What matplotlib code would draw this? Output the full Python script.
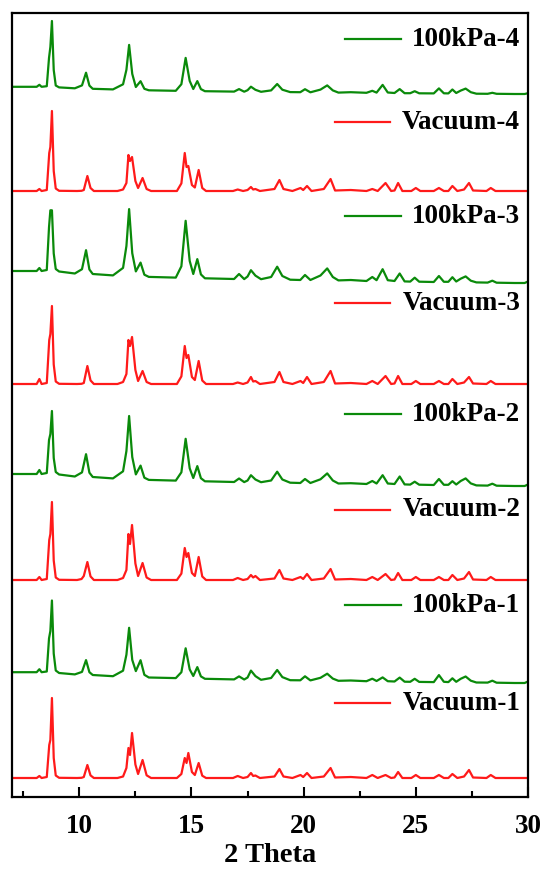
import matplotlib
matplotlib.use("Agg")
import matplotlib.pyplot as plt

# 2-theta sample points shared by the 100 kPa patterns
G_X = [7.00, 7.60, 8.10, 8.22, 8.32, 8.55, 8.65, 8.71, 8.78, 8.86,
       8.95, 9.10, 9.80, 10.12, 10.30, 10.45, 10.60, 11.50, 11.95, 12.10,
       12.22, 12.36, 12.52, 12.73, 12.90, 13.10, 14.30, 14.55, 14.74, 14.92,
       15.08, 15.26, 15.42, 15.60, 16.90, 17.12, 17.35, 17.50, 17.65, 17.85,
       18.10, 18.55, 18.82, 19.05, 19.40, 19.85, 20.06, 20.30, 20.75, 21.05,
       21.30, 21.55, 22.10, 22.80, 23.06, 23.25, 23.52, 23.75, 24.05, 24.28,
       24.50, 24.75, 24.95, 25.15, 25.80, 26.03, 26.25, 26.45, 26.63, 26.80,
       27.00, 27.22, 27.45, 27.70, 28.20, 28.41, 28.60, 29.40, 29.85, 30.00]

kpa_1 = [10.8, 10.8, 10.8, 13.8, 10.8, 11.5, 44.6, 52, 82.5, 29.4,
         12.5, 10, 8.6, 11.1, 22.9, 10.8, 8, 6.8, 12.3, 28.3,
         55.2, 23.1, 11.9, 22.8, 8.2, 5.5, 4.9, 10.8, 34.7, 13.6,
         7, 15.9, 6.6, 4.2, 3.6, 6.6, 3.5, 5.5, 12.4, 6.9,
         3.2, 5, 13, 5.9, 2.8, 2.7, 6.7, 2.6, 5.2, 9.3,
         4.4, 2.2, 2.5, 1.8, 4.3, 2, 5.6, 1.8, 1.5, 5.4,
         1.3, 1.2, 4.2, 1.1, 0.9, 7.9, 1.2, 0.9, 4.7, 1.2,
         4.2, 6.5, 2.3, 0.5, 0.4, 2.3, 0.3, 0, 0, 1.5]

kpa_2 = [12, 12, 12, 16, 12, 13, 46, 52, 75, 28,
         14, 11.5, 9.5, 13.6, 31.8, 13.3, 9, 7.6, 14.7, 35,
         70, 29, 11.6, 20.4, 8.3, 6.1, 5.4, 13.7, 47.2, 17.7,
         8, 19.9, 7.8, 4.7, 4, 7.5, 3.9, 5.5, 10.8, 6.5,
         3.8, 5.5, 14.3, 6.5, 3.3, 3, 7, 3, 6.7, 12.6,
         5.5, 2.5, 2.8, 2, 5, 2.5, 10.8, 2.5, 2, 9.5,
         1.6, 1.4, 4.3, 1.3, 1, 7, 1.2, 1.2, 4.8, 1.5,
         5, 7.6, 2.6, 0.6, 0.4, 2.3, 0.3, 0, 0, 1.5]

kpa_3 = [12, 12, 12, 15, 12, 13, 55.8, 72.7, 72.7, 29.6,
         14, 11.5, 9.5, 13.8, 32.8, 13.5, 9, 7.6, 15.1, 37,
         73.9, 29.8, 11.6, 20.4, 8.3, 6.1, 5.4, 16.7, 62.2, 22.1,
         9, 23.9, 8.6, 4.7, 4, 9, 3.9, 6.5, 12.8, 7.4,
         3.8, 6, 16.3, 7, 3.3, 3, 8, 3, 7.5, 14.6,
         6, 2.6, 3, 2, 6, 2.8, 13.8, 2.8, 2, 9.5,
         1.6, 1.4, 5.3, 1.3, 1, 7, 1.2, 1.2, 5.8, 1.5,
         4.3, 6.6, 2.3, 0.6, 0.4, 2.3, 0.3, 0, 0, 1.5]

kpa_4 = [7.2, 7.2, 7.2, 9.2, 7.2, 7.8, 36.1, 47, 73, 24,
         8.5, 6.6, 5.7, 8.6, 21.3, 8.4, 5.2, 4.6, 9.7, 24.2,
         49.1, 20.1, 7, 12.8, 5.2, 3.7, 3.2, 9.8, 36.1, 13.1,
         5, 12.9, 4.9, 2.8, 2.4, 4.9, 2.3, 3.8, 7.3, 4.2,
         2.2, 3.6, 10, 4.3, 1.9, 1.8, 4.8, 1.7, 4.4, 8.6,
         3.6, 1.4, 1.8, 1.2, 3.2, 1.4, 9.1, 1.5, 1, 4.9,
         0.8, 0.8, 2.8, 0.7, 0.6, 5.6, 0.7, 0.6, 4.5, 1,
         3.4, 5.4, 1.8, 0.3, 0.2, 1.2, 0.2, 0, 0, 0.8]

# 2-theta sample points shared by the vacuum patterns
R_X = [7.00, 7.60, 8.10, 8.22, 8.32, 8.55, 8.66, 8.71, 8.78, 8.86,
       8.95, 9.10, 9.90, 10.10, 10.20, 10.36, 10.50, 10.65, 11.70, 11.95,
       12.10, 12.19, 12.26, 12.35, 12.50, 12.62, 12.82, 13.00, 13.20, 14.35,
       14.55, 14.70, 14.78, 14.86, 15.02, 15.15, 15.32, 15.48, 15.65, 16.85,
       17.06, 17.30, 17.50, 17.65, 17.75, 17.85, 18.05, 18.70, 18.92, 19.10,
       19.50, 19.86, 19.98, 20.15, 20.35, 20.90, 21.20, 21.40, 22.10, 22.80,
       23.06, 23.30, 23.65, 23.90, 24.05, 24.21, 24.40, 24.80, 25.00, 25.20,
       25.80, 26.03, 26.25, 26.45, 26.63, 26.85, 27.15, 27.37, 27.55, 28.15,
       28.34, 28.55, 29.40, 30.00]

vac_1 = [2, 2, 2, 4, 2, 3, 35, 40, 82, 22,
         4.5, 2.2, 2, 2.2, 3, 15, 4.6, 2, 2, 3.5,
         12, 32, 25, 47, 15.5, 6, 20, 4.7, 2, 2,
         6, 22, 17, 27, 8, 5, 17, 4.3, 2, 2,
         4, 2, 3, 7, 4, 4.5, 2, 3.5, 11, 3.5,
         2, 5, 3, 7, 2, 3.5, 12, 2.5, 3, 2,
         5, 2, 5, 2, 2.5, 8, 2, 2, 5, 2,
         2, 5, 2, 2, 6, 2, 3.5, 10, 2.5, 2,
         5, 2, 2, 2]

vac_2 = [2, 2, 2, 5, 2, 3, 42, 48, 80, 21.5,
         4.5, 2.2, 2, 3, 6, 20, 5.6, 2, 2, 4,
         12, 48, 38, 57, 18.5, 6, 19, 4.5, 2, 2,
         8.4, 34, 25, 29, 9, 6, 25, 5.5, 2, 2,
         4, 2, 3, 7, 4.5, 6, 2, 3.5, 12, 3.5,
         2, 5, 3, 8, 2, 3.5, 13, 2.5, 3, 2,
         5, 2, 8, 2, 2.5, 9, 2, 2, 5, 2,
         2, 5, 2, 2, 7, 2, 3.5, 10, 2.5, 2,
         5, 2, 2, 2]

vac_3 = [2, 2, 2, 7, 2, 3, 46, 52, 80, 21.5,
         4.5, 2.2, 2, 2.2, 3, 20, 5.6, 2, 2, 4,
         12, 46, 40, 49, 16, 5, 15, 4, 2, 2,
         9.6, 40, 28, 31, 9, 6, 25, 5.5, 2, 2,
         3.5, 2, 3.5, 9, 4.5, 5, 2, 4, 14, 4,
         2, 5, 3, 9, 2, 4, 15, 2.5, 3, 2,
         5, 2, 10, 2, 2.5, 10, 2, 2, 5, 2,
         2, 5, 2, 2, 7, 2, 3.5, 9, 2.5, 2,
         5, 2, 2, 2]

vac_4 = [2, 2, 2, 4, 2, 3, 40, 46, 82, 22,
         4.5, 2.2, 2, 2.2, 3, 17, 5, 2, 2, 3.5,
         10, 38, 32, 36, 12, 5, 15, 4, 2, 2,
         9.6, 40, 26, 27, 8, 5.5, 23, 5, 2, 2,
         3.5, 2, 3, 6, 3.5, 4, 2, 4, 13, 4,
         2, 5, 3, 7, 2, 4, 14, 2.5, 3, 2,
         4, 2, 10, 2, 2.5, 10, 2, 2, 5, 2,
         2, 5, 2, 2, 7, 2, 3.5, 10, 2.5, 2,
         5, 2, 2, 2]

# stacking order from bottom to top
names = ["Vacuum-1", "100kPa-1", "Vacuum-2", "100kPa-2",
         "Vacuum-3", "100kPa-3", "Vacuum-4", "100kPa-4"]
patterns = [(R_X, vac_1), (G_X, kpa_1), (R_X, vac_2), (G_X, kpa_2),
            (R_X, vac_3), (G_X, kpa_3), (R_X, vac_4), (G_X, kpa_4)]
offsets = [17, 114, 215, 311, 411, 514, 604, 703]
label_y = [94, 192, 287, 383, 494, 581, 675, 758]

GREEN = "#0a8a0a"
RED = "#ff1a1a"

fig = plt.figure(figsize=(5.47, 8.73), dpi=100)
ax = fig.add_axes([12 / 547, 1 - 797 / 873, 516 / 547, 784 / 873])

serif = ["Liberation Serif", "DejaVu Serif"]

for name, (xs, ys), off, ly in zip(names, patterns, offsets, label_y):
    color = RED if name.startswith("Vacuum") else GREEN
    ax.plot(xs, [v + off for v in ys], color=color, lw=1.6,
            solid_joinstyle="round")
    if name.startswith("Vacuum"):
        x0, x1 = 21.4, 23.85
    else:
        x0, x1 = 21.85, 24.35
    ax.plot([x0, x1], [ly, ly], color=color, lw=1.6)
    ax.text(29.65, ly, name, ha="right", va="center", family=serif,
            fontweight="bold", fontsize=19.5)

ax.set_xlim(7, 30)
ax.set_ylim(0, 784)
ax.set_yticks([])
ax.set_xticks([10, 15, 20, 25, 30])
ax.set_xticks([7.5, 12.5, 17.5, 22.5, 27.5], minor=True)
ax.tick_params(axis="x", which="major", direction="in", length=7, width=1.5,
               pad=12)
ax.tick_params(axis="x", which="minor", direction="in", length=4.5, width=1.5)
for lab in ax.get_xticklabels():
    lab.set_family(serif)
    lab.set_fontweight("bold")
    lab.set_fontsize(19.5)
for sp in ax.spines.values():
    sp.set_linewidth(1.6)
ax.set_xlabel("2 Theta", family=serif, fontweight="bold", fontsize=20.5,
              labelpad=3)

fig.savefig("out.png", dpi=100)
